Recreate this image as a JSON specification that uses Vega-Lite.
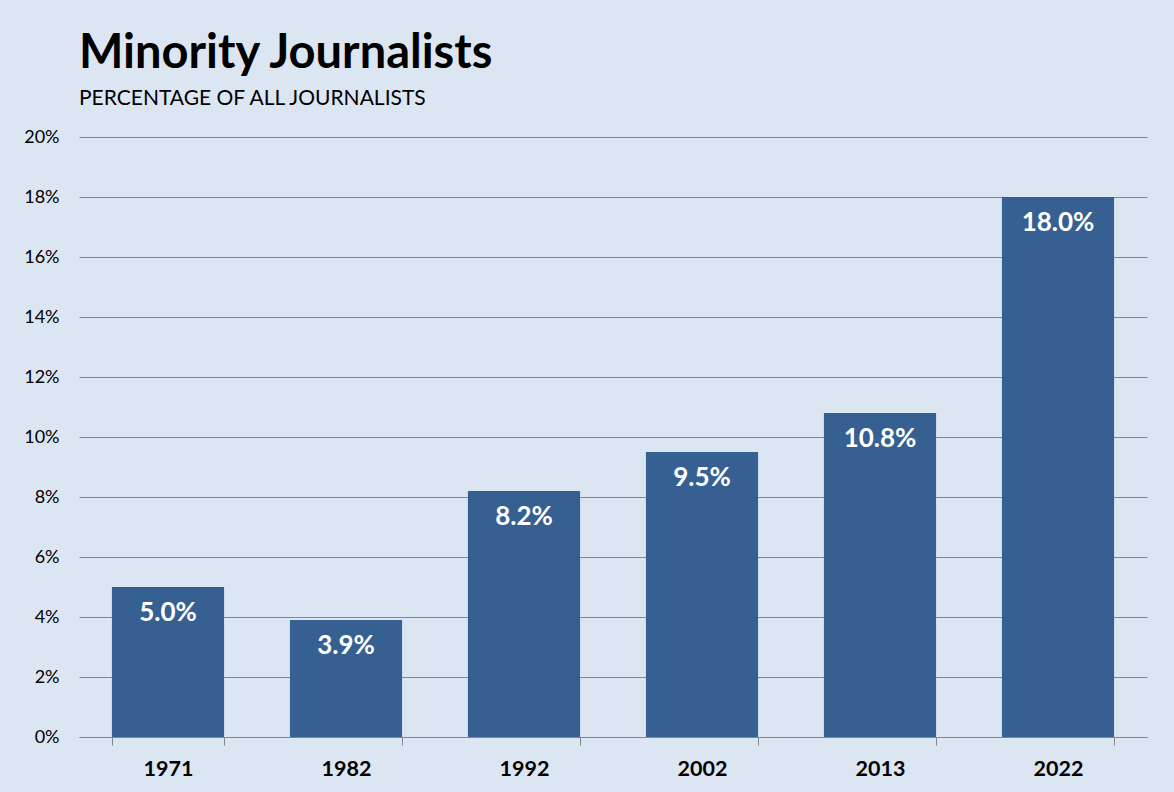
{
  "$schema": "https://vega.github.io/schema/vega-lite/v6.json",
  "width": 1174,
  "height": 792,
  "autosize": {"type": "fit", "contains": "padding"},
  "padding": {"left": 23, "top": 30, "right": 27, "bottom": 12},
  "background": "#dce6f2",
  "config": {"view": {"stroke": null}},
  "title": {
    "text": "Minority Journalists",
    "subtitle": "PERCENTAGE OF ALL JOURNALISTS",
    "anchor": "start",
    "frame": "group",
    "font": "Lato",
    "fontSize": 47,
    "fontWeight": "bold",
    "color": "#000000",
    "subtitleFont": "Lato",
    "subtitleFontSize": 21,
    "subtitleColor": "#000000",
    "subtitlePadding": 10,
    "offset": 18
  },
  "data": {
    "values": [
      {"year": "1971", "pct": 0.050},
      {"year": "1982", "pct": 0.039},
      {"year": "1992", "pct": 0.082},
      {"year": "2002", "pct": 0.095},
      {"year": "2013", "pct": 0.108},
      {"year": "2022", "pct": 0.180}
    ]
  },
  "encoding": {
    "x": {
      "field": "year",
      "type": "ordinal",
      "sort": null,
      "scale": {"paddingInner": 0.37, "paddingOuter": 0.185},
      "axis": {
        "title": null,
        "labelAngle": 0,
        "labelFont": "Lato",
        "labelFontSize": 21.5,
        "labelFontWeight": "bold",
        "labelColor": "#000000",
        "labelPadding": 13,
        "tickBand": "extent",
        "tickSize": 8,
        "tickColor": "#868686",
        "domainColor": "#868686",
        "grid": false
      }
    },
    "y": {
      "field": "pct",
      "type": "quantitative",
      "scale": {"domain": [0, 0.2]},
      "axis": {
        "title": null,
        "format": ".0%",
        "values": [0, 0.02, 0.04, 0.06, 0.08, 0.1, 0.12, 0.14, 0.16, 0.18, 0.2],
        "labelFont": "Lato",
        "labelFontSize": 18,
        "labelColor": "#000000",
        "labelPadding": 20,
        "ticks": false,
        "domain": false,
        "grid": true,
        "gridColor": "#868686",
        "gridWidth": 1
      }
    }
  },
  "layer": [
    {"mark": {"type": "bar", "color": "#366092"}},
    {
      "mark": {"type": "text", "color": "white", "font": "Lato", "fontWeight": "bold", "fontSize": 26, "baseline": "middle", "dy": 26},
      "encoding": {"text": {"field": "pct", "type": "quantitative", "format": ".1%"}}
    }
  ]
}
